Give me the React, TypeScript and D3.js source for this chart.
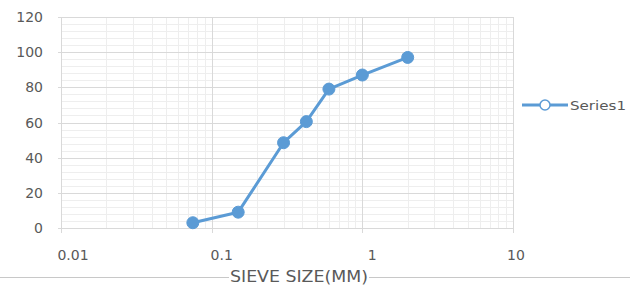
import { useEffect, useRef } from "react";
import * as d3 from "d3";

// sieve analysis: size (mm) vs % passing
const sieveSize = [0.075, 0.15, 0.3, 0.425, 0.6, 1.0, 2.0];
const percentPassing = [3, 9, 48.5, 60.5, 79, 87, 97];
const yTicks = [0, 20, 40, 60, 80, 100, 120];
const xTicks = [0.01, 0.1, 1, 10];
const xTickLabels = ["0.01", "0.1", "1", "10"];
const seriesName = "Series1";
const xTitle = "SIEVE SIZE(MM)";

const W = 630;
const H = 289;
const BLUE = "#5b9bd5";

export default function App() {
  const ref = useRef<SVGSVGElement | null>(null);

  useEffect(() => {
    if (!ref.current) return;
    const svg = d3.select(ref.current);
    svg.selectAll("*").remove();

    const x = d3.scaleLog().domain([0.01, 10]).range([61, 513]);
    const y = d3.scaleLinear().domain([0, 120]).range([228, 17]);

    svg.append("rect").attr("width", W).attr("height", H).attr("fill", "#fff");

    const grid = svg.append("g").attr("shape-rendering", "crispEdges");

    // minor grid: log 2..9 per decade, every 4 on y
    const minorX: number[] = [];
    for (let dec = 0.01; dec < 10; dec *= 10) {
      for (let k = 2; k <= 9; k++) minorX.push(+(dec * k).toPrecision(3));
    }
    grid
      .selectAll("line.mx")
      .data(minorX)
      .enter()
      .append("line")
      .attr("x1", (d) => Math.round(x(d)) + 0.5)
      .attr("x2", (d) => Math.round(x(d)) + 0.5)
      .attr("y1", y(120))
      .attr("y2", y(0))
      .attr("stroke", "#eeeeee");

    const minorY = d3.range(0, 121, 4).filter((v) => v % 20 !== 0);
    grid
      .selectAll("line.my")
      .data(minorY)
      .enter()
      .append("line")
      .attr("x1", x(0.01))
      .attr("x2", x(10))
      .attr("y1", (d) => Math.round(y(d)) + 0.5)
      .attr("y2", (d) => Math.round(y(d)) + 0.5)
      .attr("stroke", "#eeeeee");

    // major grid
    grid
      .selectAll("line.gy")
      .data(yTicks)
      .enter()
      .append("line")
      .attr("x1", x(0.01) - 3)
      .attr("x2", x(10))
      .attr("y1", (d) => Math.round(y(d)) + 0.5)
      .attr("y2", (d) => Math.round(y(d)) + 0.5)
      .attr("stroke", "#d9d9d9");

    grid
      .selectAll("line.gx")
      .data(xTicks)
      .enter()
      .append("line")
      .attr("x1", (d) => Math.round(x(d)) + 0.5)
      .attr("x2", (d) => Math.round(x(d)) + 0.5)
      .attr("y1", y(120))
      .attr("y2", y(0) + 5)
      .attr("stroke", "#d9d9d9");

    // y labels
    svg
      .append("g")
      .selectAll("text")
      .data(yTicks)
      .enter()
      .append("text")
      .attr("x", 43)
      .attr("y", (d) => y(d))
      .attr("dy", "0.36em")
      .attr("text-anchor", "end")
      .attr("font-family", "DejaVu Sans, sans-serif")
      .attr("font-size", 14)
      .attr("fill", "#595959")
      .text((d) => String(d));

    // x labels (excel draws them a bit right of the gridline)
    const shift = [12, 10, 10, 3];
    svg
      .append("g")
      .selectAll("text")
      .data(xTicks)
      .enter()
      .append("text")
      .attr("x", (d, i) => x(d) + shift[i])
      .attr("y", 260)
      .attr("text-anchor", "middle")
      .attr("font-family", "DejaVu Sans, sans-serif")
      .attr("font-size", 14)
      .attr("fill", "#595959")
      .text((_, i) => xTickLabels[i]);

    // series
    const pts = sieveSize.map((s, i) => [s, percentPassing[i]] as [number, number]);
    const line = d3
      .line<[number, number]>()
      .x((d) => x(d[0]))
      .y((d) => y(d[1]));

    svg
      .append("path")
      .datum(pts)
      .attr("d", line)
      .attr("fill", "none")
      .attr("stroke", BLUE)
      .attr("stroke-width", 3)
      .attr("stroke-linejoin", "round");

    svg
      .append("g")
      .selectAll("circle")
      .data(pts)
      .enter()
      .append("circle")
      .attr("cx", (d) => x(d[0]))
      .attr("cy", (d) => y(d[1]))
      .attr("r", 6)
      .attr("fill", BLUE)
      .attr("stroke", BLUE)
      .attr("stroke-width", 1);

    // legend
    const lg = svg.append("g").attr("transform", "translate(522,105)");
    lg.append("line").attr("x1", 0).attr("x2", 46).attr("stroke", BLUE).attr("stroke-width", 3);
    lg.append("circle").attr("cx", 23).attr("r", 5).attr("fill", "#fff").attr("stroke", BLUE).attr("stroke-width", 1.5);
    lg.append("text")
      .attr("x", 48)
      .attr("dy", "0.36em")
      .attr("font-family", "DejaVu Sans, sans-serif")
      .attr("font-size", 13)
      .attr("fill", "#595959")
      .attr("textLength", 56)
      .attr("lengthAdjust", "spacingAndGlyphs")
      .text(seriesName);

    // bottom rule + axis title
    const tx = 299;
    const tw = 138;
    svg.append("line").attr("x1", 0).attr("x2", tx - tw / 2 - 1).attr("y1", 277.5).attr("y2", 277.5).attr("stroke", "#c8c8c8");
    svg.append("line").attr("x1", tx + tw / 2 + 1).attr("x2", W).attr("y1", 277.5).attr("y2", 277.5).attr("stroke", "#c8c8c8");
    svg
      .append("text")
      .attr("x", tx)
      .attr("y", 282)
      .attr("text-anchor", "middle")
      .attr("font-family", "DejaVu Sans, sans-serif")
      .attr("font-size", 16)
      .attr("fill", "#595959")
      .attr("textLength", tw)
      .attr("lengthAdjust", "spacingAndGlyphs")
      .text(xTitle);
  }, []);

  return (
    <svg
      ref={ref}
      width={W}
      height={H}
      style={{ position: "absolute", left: 0, top: 0, display: "block" }}
    />
  );
}
